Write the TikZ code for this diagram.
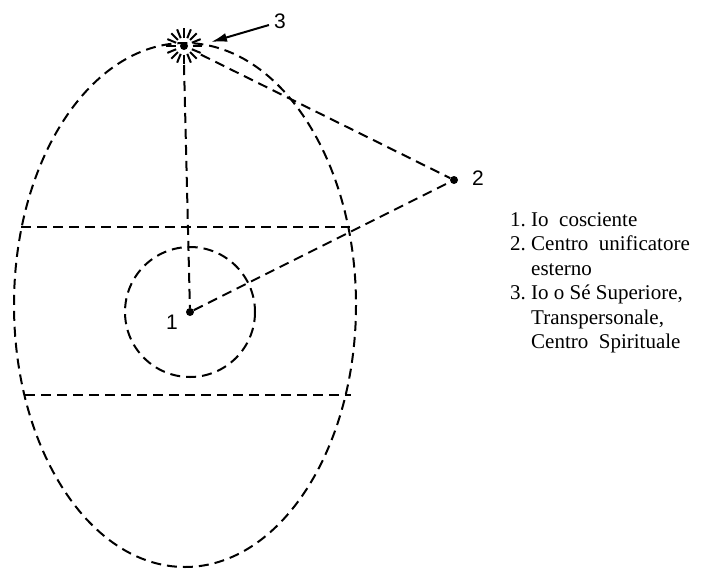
\documentclass[tikz,border=0pt]{standalone}
\usepackage{fontspec}
\setmainfont{Liberation Serif}
\newfontfamily\lsans{Liberation Sans}
\usetikzlibrary{arrows.meta}
\begin{document}
\begin{tikzpicture}[x=1pt,y=-1pt,
  dline/.style={line width=2pt,dash pattern=on 10pt off 6pt},
  numlab/.style={font=\lsans\fontsize{21}{21}\selectfont,inner sep=0pt},
  dotpt/.style={circle,fill=black,inner sep=0pt,minimum size=8pt}]
\useasboundingbox (0,0) rectangle (709,573);
\fill[white] (0,0) rectangle (709,573);
% ellipse
\draw[dline] (185,305) ellipse [x radius=171, y radius=262];
% chords
\coordinate (ul) at (21,227);
\coordinate (ur) at (350,227);
\coordinate (ll) at (25,395);
\coordinate (lr) at (351,395);
\draw[dline] (ul) -- (ur);
\draw[dline] (ll) -- (lr);
% inner circle
\draw[dline] (190,312) circle [radius=65];
% points
\node[dotpt] (p1) at (190,312) {};
\node[dotpt] (p2) at (454,180) {};
\node[dotpt,minimum size=8pt] (p3) at (184,46) {};
\foreach \a in {0,22.5,...,359}
  \draw[line width=2pt] (p3) ++(\a:8.5) -- ++(\a:9.5);
% connectors
\draw[dline] (p3) ++(0,19) coordinate (p3b) -- (p1);
\draw[dline] (p3) ++(27:19) coordinate (p3r) -- (p2);
\draw[dline] (p1) -- (p2);
% labels
\node[numlab] (l1) at (172,322) {1};
\node[numlab] (l2) at (478,178) {2};
\node[numlab] (l3) at (280,21) {3};
\draw[line width=2pt,-{Latex[length=16pt,width=9pt]}] (l3.west) ++(-5,4) coordinate (a3) -- (211,42);
% legend
\node[anchor=north west,align=left,inner sep=0pt,font=\fontsize{21}{24.5}\selectfont] (leg) at (510,212) {%
1.\ Io\ \ cosciente\\
2.\ Centro\ \ unificatore\\
\hspace*{1.0em}esterno\\
3.\ Io o Sé Superiore,\\
\hspace*{1.0em}Transpersonale,\\
\hspace*{1.0em}Centro\ \ Spirituale};
\end{tikzpicture}
\end{document}
